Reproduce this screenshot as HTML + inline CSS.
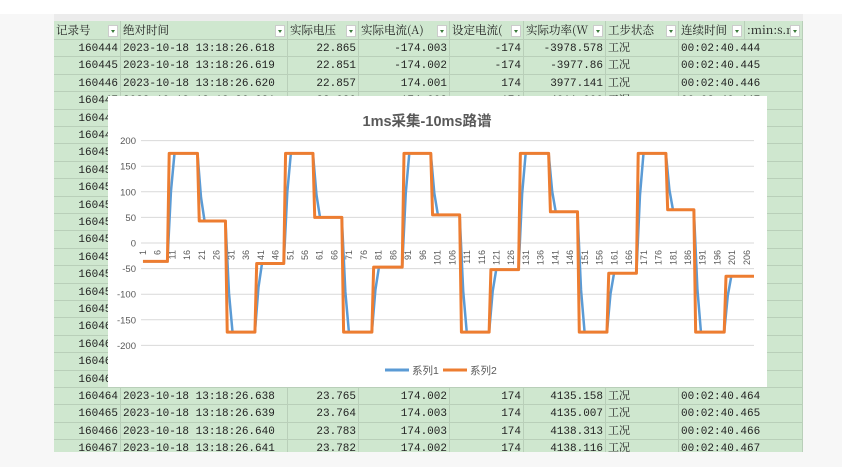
<!DOCTYPE html>
<html><head><meta charset="utf-8"><style>
body{margin:0;width:842px;height:467px;background:#f7f7f7;position:relative;overflow:hidden;font-family:"Liberation Mono","Noto Serif CJK SC",monospace;font-size:11px;color:#222}
#top{position:absolute;left:0;top:0;width:842px;height:14px;background:#fff}
#sheet{position:absolute;left:54px;top:14px;width:749px;height:438px;background:#cfe7cf;overflow:hidden}
.colh{position:absolute;top:0;height:7px;background:#ececec;border-right:1px solid #d0d0d0;overflow:hidden}
.c{position:absolute;height:17px;line-height:18px;border-right:1px solid #b9cfb9;border-bottom:1px solid #b9cfb9;overflow:hidden;white-space:nowrap;padding:0 2px;box-sizing:border-box}
.ov{overflow:visible;border-right:none;z-index:1}
.r{text-align:right}
.h{font-family:"Noto Serif CJK SC","Liberation Mono",serif;font-size:11.5px;height:19px;line-height:19px}
.dd{position:absolute;right:2px;top:4px;width:10px;height:12px;background:#fff;border:1px solid #ccc;box-sizing:border-box}
.dd:after{content:"";position:absolute;left:2px;top:4px;border:2.5px solid transparent;border-top:3px solid #3a7a3a}
#chart{position:absolute;left:108px;top:96px;width:659px;height:291px;background:#fff;z-index:5}
#svg{z-index:6}
</style></head><body>
<div id="top"></div>
<div id="sheet"></div>
<div id="chart"></div>
<svg width="842" height="467" style="position:absolute;left:0;top:0" id="svg"></svg>
<script>
var cols=[0,67,234,305,396,470,552,625,691,749];
var sh=document.getElementById('sheet'),html='';
for(var i=0;i<9;i++)html+='<div class="colh" style="left:'+cols[i]+'px;width:'+(cols[i+1]-cols[i])+'px"></div>';
var hd=['记录号','绝对时间','实际电压','实际电流(A)','设定电流(','实际功率(W','工步状态','连续时间',':min:s.m'];
for(var i=0;i<9;i++){html+='<div class="c h" style="left:'+cols[i]+'px;top:7px;width:'+(cols[i+1]-cols[i])+'px">'+hd[i]+'<span class="dd"></span></div>';}
var rows=[['22.865','-174.003','-174','-3978.578'],['22.851','-174.002','-174','-3977.86'],['22.857','174.001','174','3977.141']];
for(var k=0;k<24;k++){
 var y=26+k*17.4,n=160444+k,ms=618+k,t=(444+k);
 var d=rows[k]||(k>=20?[['23.765','174.002','174','4135.158'],['23.764','174.003','174','4135.007'],['23.783','174.003','174','4138.313'],['23.782','174.002','174','4138.116']][k-20]:[(22.9+k*0.04).toFixed(3),'174.002','174',(3990+k*7).toFixed(3)]);
 var v=[n,'2023-10-18 13:18:26.'+ms,d[0],d[1],d[2],d[3],'工况','00:02:40.'+t,''];
 for(var i=0;i<9;i++){var r=(i==0||(i>=2&&i<=5))?' r':'';if(i==7)r=' ov';
 html+='<div class="c'+r+'" style="left:'+cols[i]+'px;top:'+y+'px;width:'+(cols[i+1]-cols[i])+'px;height:17.4px">'+v[i]+'</div>';}
}
sh.innerHTML=html;
var s='',X0=141.5,dx=2.946;
function X(c){return X0+(c-0.5)*dx}
function Y(v){return 243-v*0.512}
for(var v=200;v>=-200;v-=50){s+='<line x1="141" x2="754" y1="'+Y(v)+'" y2="'+Y(v)+'" stroke="#d9d9d9" stroke-width="1"/>';
 s+='<text x="136" y="'+(Y(v)+3.5)+'" text-anchor="end" font-size="9.5" fill="#595959" font-family="Liberation Sans">'+v+'</text>';}
for(var c=1;c<=206;c+=5){var x=X(c)+3;s+='<text transform="translate('+x+',250) rotate(-90)" text-anchor="end" font-size="9" fill="#595959" font-family="Liberation Sans">'+c+'</text>';}
var tr=[[9.3,175],[19.5,43],[29,-174],[39,-40],[48.8,175],[58.7,50],[68.5,-174],[78.7,-47],[89,175],[98.7,55],[108.5,-174],[118.5,-52],[128.5,175],[138.7,61],[148.5,-174],[158.5,-59],[168.5,175],[178.5,65],[188,-174],[198.3,-65]];
var v0=-36,po='M'+X(1)+','+Y(v0),pb='M'+X(1)+','+Y(v0);
for(var i=0;i<tr.length;i++){var c=tr[i][0],v=tr[i][1];
 po+=' L'+X(c)+','+Y(v0)+' L'+X(c+0.6)+','+Y(v);
 pb+=' L'+X(c)+','+Y(v0)+' L'+X(c+1.2)+','+Y(v0+(v-v0)*0.65)+' L'+X(c+2.4)+','+Y(v);
 v0=v;}
po+=' L754,'+Y(v0);pb+=' L754,'+Y(v0);
s+='<path d="'+pb+'" fill="none" stroke="#5b9bd5" stroke-width="2.5" stroke-linejoin="round"/>';
s+='<path d="'+po+'" fill="none" stroke="#ed7d31" stroke-width="3" stroke-linejoin="round"/>';
s+='<text x="427" y="126" text-anchor="middle" font-size="14.5" font-weight="bold" fill="#595959" font-family="Liberation Sans,Noto Sans CJK SC,sans-serif">1ms采集-10ms路谱</text>';
s+='<line x1="385" x2="409" y1="370" y2="370" stroke="#5b9bd5" stroke-width="3"/><text x="412" y="374" font-size="10.5" fill="#595959" font-family="Liberation Sans,Noto Sans CJK SC,sans-serif">系列1</text>';
s+='<line x1="443" x2="467" y1="370" y2="370" stroke="#ed7d31" stroke-width="3"/><text x="470" y="374" font-size="10.5" fill="#595959" font-family="Liberation Sans,Noto Sans CJK SC,sans-serif">系列2</text>';
document.getElementById('svg').innerHTML=s;
</script>
</body></html>
